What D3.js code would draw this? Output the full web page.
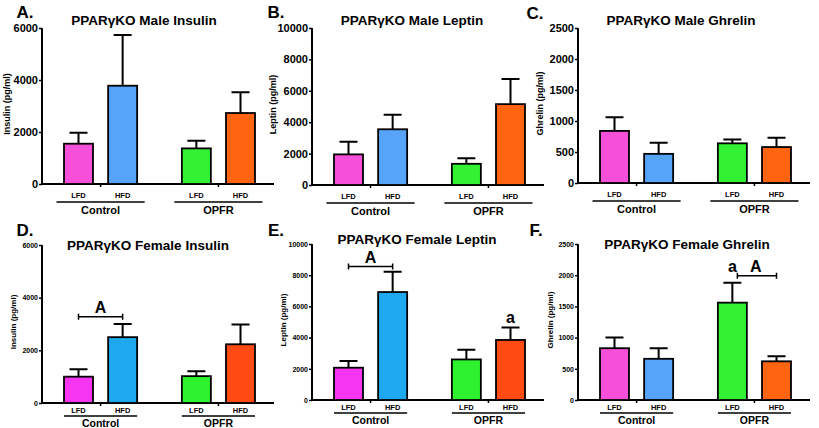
<!DOCTYPE html>
<html>
<head>
<meta charset="utf-8">
<script src="https://cdn.jsdelivr.net/npm/d3@7"></script>
<style>
  body { margin: 0; background: #fff; }
  svg { display: block; font-family: "Liberation Sans", Arial, sans-serif; font-weight: bold; }
</style>
</head>
<body>
<script>
// categories
const diets = ['LFD', 'HFD', 'LFD', 'HFD'];
const groups = ['Control', 'OPFR'];
const groupOf = [0, 0, 1, 1];

// bar means (pg/ml) and upper SEM whiskers (pg/ml)
const maleInsulin = [1550, 3780, 1370, 2730];
const maleInsulinErr = [420, 1950, 290, 800];
const maleLeptin = [1950, 3550, 1350, 5150];
const maleLeptinErr = [800, 930, 350, 1600];
const maleGhrelin = [840, 470, 640, 580];
const maleGhrelinErr = [220, 180, 60, 150];
const femaleInsulin = [1000, 2500, 1020, 2230];
const femaleInsulinErr = [280, 500, 190, 750];
const femaleLeptin = [2070, 6920, 2600, 3850];
const femaleLeptinErr = [430, 1300, 620, 800];
const femaleGhrelin = [830, 660, 1560, 620];
const femaleGhrelinErr = [170, 170, 320, 80];

// tick labels
const ticksInsulin = [0, 2000, 4000, 6000];
const ticksLeptin = [0, 2000, 4000, 6000, 8000, 10000];
const ticksGhrelin = [0, 500, 1000, 1500, 2000, 2500];

const colMale = ['#f64fd9', '#55a4f8', '#33f233', '#ff6411'];
const colFemale = ['#f535ef', '#1ea8ef', '#2ef22e', '#ff4a14'];

const topRow = { tickSize: 11, ylabSize: 9, labelDy: 14, lineDy: 18, groupDy: 30, lineExt: 22, groupSize: 11 };
const botRow = { tickSize: 7, ylabSize: 8, labelDy: 10, lineDy: 13, groupDy: 23.5, lineExt: 14.5, groupSize: 10.5 };

const panels = [
  { row: topRow, letter: 'A.', title: 'PPAR\u03b3KO  Male Insulin', ylab: 'Insulin (pg/ml)', vals: maleInsulin, err: maleInsulinErr, ticks: ticksInsulin,
    ax: 42, top: 28, bottom: 184, titleX: 144, titleY: 25, letterX: 25, letterY: 18, ylabX: 10, cols: colMale, notes: [] },
  { row: topRow, letter: 'B.', title: 'PPAR\u03b3KO Male Leptin', ylab: 'Leptin (pg/ml)', vals: maleLeptin, err: maleLeptinErr, ticks: ticksLeptin,
    ax: 312, top: 28, bottom: 185, titleX: 412, titleY: 25, letterX: 276, letterY: 18, ylabX: 276, cols: colMale, notes: [] },
  { row: topRow, letter: 'C.', title: 'PPAR\u03b3KO  Male Ghrelin', ylab: 'Ghrelin (pg/ml)', vals: maleGhrelin, err: maleGhrelinErr, ticks: ticksGhrelin,
    ax: 578, top: 28, bottom: 183, titleX: 681, titleY: 25, letterX: 535, letterY: 19, ylabX: 543, cols: colMale, notes: [] },
  { row: botRow, letter: 'D.', title: 'PPAR\u03b3KO Female Insulin', ylab: 'Insulin (pg/ml)', vals: femaleInsulin, err: femaleInsulinErr, ticks: ticksInsulin,
    ax: 42, top: 245, bottom: 403, titleX: 148, titleY: 250, letterX: 25, letterY: 236, ylabX: 16, cols: colFemale,
    notes: [{ bar: [0, 1], v: 3280, text: 'A' }] },
  { row: botRow, letter: 'E.', title: 'PPAR\u03b3KO Female Leptin', ylab: 'Leptin (pg/ml)', vals: femaleLeptin, err: femaleLeptinErr, ticks: ticksLeptin,
    ax: 312, top: 244, bottom: 400, titleX: 417, titleY: 244, letterX: 276, letterY: 236, ylabX: 286, cols: colFemale,
    notes: [{ bar: [0, 1], v: 8550, text: 'A' }, { bar: [3], v: 4950, text: 'a' }] },
  { row: botRow, letter: 'F.', title: 'PPAR\u03b3KO Female Ghrelin', ylab: 'Ghrelin (pg/ml)', vals: femaleGhrelin, err: femaleGhrelinErr, ticks: ticksGhrelin,
    ax: 578, top: 244, bottom: 400, titleX: 687, titleY: 249, letterX: 536, letterY: 236, ylabX: 553, cols: colMale,
    notes: [{ bar: [2, 3], v: 1990, text: 'A', textAt: 0.47, startDx: 5 }, { bar: [2], v: 2050, text: 'a' }] }
];

const svg = d3.select('body').append('svg').attr('width', 819).attr('height', 428);

const barW = 29;
const gapSlot = 0.67;

panels.forEach(p => {
  const r = p.row;
  const g = svg.append('g');
  const y = d3.scaleLinear().domain([0, d3.max(p.ticks)]).range([p.bottom, p.top]);
  const x = d3.scaleLinear().domain([0, 3 + gapSlot]).range([p.ax + 36.5, p.ax + 198.5]);
  const cx = i => x(i + gapSlot * groupOf[i]);
  const y0 = y(0);

  // y axis
  g.append('g')
    .attr('transform', `translate(${p.ax},0)`)
    .call(d3.axisLeft(y).tickValues(p.ticks).tickFormat(d3.format('d')).tickSize(3).tickPadding(1))
    .call(s => s.select('.domain').attr('stroke-width', 2).attr('d', `M0,${p.top}V${p.bottom}`))
    .call(s => s.selectAll('.tick line').attr('stroke-width', 1.5))
    .call(s => s.selectAll('.tick text').attr('font-size', r.tickSize).attr('font-weight', 'bold')
      .attr('font-family', '"Liberation Sans", Arial, sans-serif').attr('fill', '#000'));

  // x axis line
  g.append('line')
    .attr('x1', p.ax - 1).attr('x2', p.ax + 232)
    .attr('y1', y0).attr('y2', y0)
    .attr('stroke', '#000').attr('stroke-width', 2);
  // small ticks between bars of each group
  [0, 2].forEach(i => {
    const mx = (cx(i) + cx(i + 1)) / 2;
    g.append('line').attr('x1', mx).attr('x2', mx).attr('y1', y0).attr('y2', y0 + 3)
      .attr('stroke', '#000').attr('stroke-width', 1.5);
  });

  // error bars (upper only)
  g.selectAll('.err').data(p.vals).enter().append('path')
    .attr('d', (d, i) => `M${cx(i)},${y(d)}V${y(d + p.err[i])}M${cx(i) - 9},${y(d + p.err[i])}H${cx(i) + 9}`)
    .attr('stroke', '#000').attr('stroke-width', 2).attr('fill', 'none');

  // bars
  g.selectAll('.bar').data(p.vals).enter().append('rect')
    .attr('x', (d, i) => cx(i) - barW / 2)
    .attr('width', barW)
    .attr('y', d => y(d))
    .attr('height', d => y0 - y(d))
    .attr('fill', (d, i) => p.cols[i])
    .attr('stroke', '#000').attr('stroke-width', 1.8);

  // diet labels
  g.selectAll('.diet').data(diets).enter().append('text')
    .attr('x', (d, i) => cx(i)).attr('y', y0 + r.labelDy)
    .attr('text-anchor', 'middle').attr('font-size', 7.5).text(d => d);

  // group underline + label
  groups.forEach((name, k) => {
    const a = cx(2 * k), b = cx(2 * k + 1);
    g.append('line').attr('x1', a - r.lineExt).attr('x2', b + r.lineExt)
      .attr('y1', y0 + r.lineDy).attr('y2', y0 + r.lineDy)
      .attr('stroke', '#000').attr('stroke-width', 1.6);
    g.append('text').attr('x', (a + b) / 2).attr('y', y0 + r.groupDy)
      .attr('text-anchor', 'middle').attr('font-size', r.groupSize).text(name);
  });

  // titles
  g.append('text').attr('x', p.titleX).attr('y', p.titleY)
    .attr('text-anchor', 'middle').attr('font-size', 13.5).text(p.title);
  g.append('text').attr('x', p.letterX).attr('y', p.letterY)
    .attr('text-anchor', 'middle').attr('font-size', 17).text(p.letter);
  g.append('text')
    .attr('transform', `translate(${p.ylabX},${(p.top + p.bottom) / 2 - 2}) rotate(-90)`)
    .attr('text-anchor', 'middle').attr('font-size', r.ylabSize).text(p.ylab);

  // significance marks
  p.notes.forEach(n => {
    const xs = n.bar.map(cx);
    if (xs.length === 2) {
      const yy = y(n.v);
      const x1 = xs[0] + (n.startDx || 0);
      g.append('path')
        .attr('d', `M${x1},${yy - 3}V${yy + 3}M${x1},${yy}H${xs[1]}M${xs[1]},${yy - 3}V${yy + 3}`)
        .attr('stroke', '#000').attr('stroke-width', 1.5).attr('fill', 'none');
      const t = n.textAt !== undefined ? n.textAt : 0.5;
      g.append('text').attr('x', x1 + (xs[1] - x1) * t).attr('y', yy - 4)
        .attr('text-anchor', 'middle').attr('font-size', 16).text(n.text);
    } else {
      g.append('text').attr('x', xs[0]).attr('y', y(n.v))
        .attr('text-anchor', 'middle').attr('font-size', 16).text(n.text);
    }
  });
});
</script>
</body>
</html>
